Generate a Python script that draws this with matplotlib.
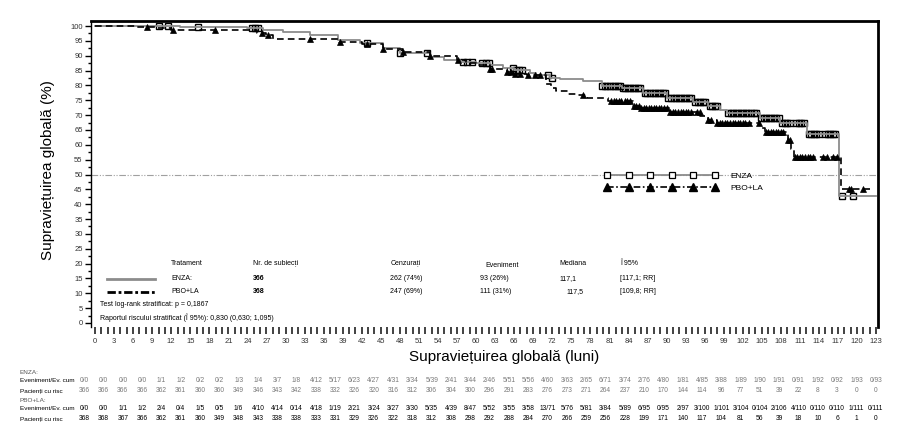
import matplotlib
matplotlib.use('Agg')
import matplotlib.pyplot as plt
import numpy as np
from matplotlib.lines import Line2D
from matplotlib.transforms import blended_transform_factory

plt.rcParams['font.family'] = ['Liberation Sans', 'DejaVu Sans']

# --- curve data ---
enza_t = [0, 13.4, 24.0, 26.5, 29.6, 33.9, 38.3, 41.7, 45.4, 48.0, 52.8, 55.0,
          57.5, 60.0, 62.2, 64.3, 66.0, 68.5, 69.5, 71.7, 73.2, 76.9, 79.8,
          83.0, 86.3, 90.0, 94.2, 96.5, 98.4, 99.5, 104.7, 107.9, 112.1,
          117.1, 123.0]
enza_s = [100, 99.6, 99.2, 98.6, 97.9, 97.1, 95.3, 94.2, 92.5, 90.8, 89.5,
          88.6, 88.0, 87.4, 86.9, 86.0, 85.2, 84.3, 83.5, 82.6, 82.2, 81.5,
          79.9, 79.1, 77.4, 75.9, 74.3, 73.2, 71.7, 70.7, 69.0, 67.2, 63.8,
          42.7, 42.7]

pbo_t = [0, 6.5, 9.5, 12.0, 25.5, 27.0, 28.0, 38.5, 42.0, 45.4, 48.5, 52.8,
         57.0, 58.5, 60.0, 62.2, 64.9, 66.0, 68.0, 71.0, 71.8, 72.6, 74.5,
         76.0, 77.5, 80.8, 84.7, 86.0, 90.5, 95.3, 96.5, 98.0, 104.7, 105.5,
         109.1, 109.6, 110.0, 117.5, 122.0]
pbo_s = [100, 99.7, 99.2, 98.6, 97.8, 97.0, 95.5, 94.6, 93.8, 92.2, 91.4,
         89.9, 88.6, 87.5, 86.9, 85.5, 84.5, 84.0, 83.5, 80.5, 79.0, 78.0,
         77.2, 76.8, 75.8, 74.6, 73.2, 72.4, 71.2, 69.6, 68.4, 67.3, 65.8,
         64.4, 61.5, 58.5, 56.0, 45.0, 45.0]

# censored times
enza_cens = [10.0, 11.5, 16.2, 24.7, 25.2, 25.7, 42.8, 48.0, 52.3, 58.0, 58.6,
             59.3, 61.0, 61.6, 62.1, 65.8, 66.3, 66.8, 67.3, 71.3, 71.9, 79.9,
             80.3, 80.7, 81.1, 81.5, 81.9, 82.3, 82.7, 83.1, 83.5, 83.9, 84.3,
             84.7, 85.1, 85.5, 85.9, 86.6, 87.0, 87.4, 87.8, 88.2, 88.6, 89.0,
             89.4, 89.8, 90.3, 90.7, 91.1, 91.5, 91.9, 92.3, 92.7, 93.1, 93.5,
             93.9, 94.5, 94.9, 95.3, 95.7, 96.1, 96.8, 97.2, 97.6, 98.0, 99.7,
             100.1, 100.5, 100.9, 101.3, 101.7, 102.1, 102.5, 102.9, 103.3,
             103.7, 104.1, 104.9, 105.3, 105.7, 106.1, 106.5, 106.9, 107.3,
             107.7, 108.2, 108.6, 109.0, 109.4, 110.4, 110.8, 111.2, 111.6,
             112.4, 112.8, 113.2, 113.6, 114.0, 115.0, 115.4, 115.8, 116.2,
             116.6, 117.6, 119.4]
pbo_cens = [8.2, 12.3, 18.9, 26.3, 27.2, 33.9, 38.6, 42.8, 45.4, 48.5, 52.8,
            57.2, 62.2, 62.5, 64.9, 65.5, 66.2, 67.0, 68.2, 69.3, 70.0, 76.9,
            81.3, 81.7, 82.1, 82.5, 82.9, 83.4, 83.8, 84.2, 84.8, 85.2, 85.6,
            86.0, 86.4, 86.8, 87.2, 87.6, 88.0, 88.4, 88.8, 89.2, 89.6, 90.0,
            90.6, 91.0, 91.4, 91.8, 92.2, 92.6, 93.0, 93.4, 93.8, 94.8, 95.2,
            96.5, 97.0, 98.0, 98.4, 98.8, 99.2, 99.6, 100.0, 100.4, 100.8,
            101.2, 101.6, 102.0, 102.4, 103.0, 104.6, 105.6, 106.0, 106.4,
            106.8, 107.2, 107.6, 108.0, 108.4, 109.2, 109.4, 110.2, 110.6,
            111.0, 111.4, 111.8, 112.2, 112.6, 113.0, 114.6, 115.2, 116.2,
            116.8, 118.7, 119.1, 121.0]

# --- numbers-at-risk table ---
enza_ev = ['0/0', '0/0', '0/0', '0/0', '1/1', '1/2', '0/2', '0/2', '1/3', '1/4',
           '3/7', '1/8', '4/12', '5/17', '6/23', '4/27', '4/31', '3/34', '5/39',
           '2/41', '3/44', '2/46', '5/51', '5/56', '4/60', '3/63', '2/65',
           '6/71', '3/74', '2/76', '4/80', '1/81', '4/85', '3/88', '1/89',
           '1/90', '1/91', '0/91', '1/92', '0/92', '1/93', '0/93']
enza_risk = [366, 366, 366, 366, 362, 361, 360, 360, 349, 346, 343, 342, 338,
             332, 326, 320, 316, 312, 306, 304, 300, 296, 291, 283, 276, 273,
             271, 264, 237, 210, 170, 144, 114, 96, 77, 51, 39, 22, 8, 3, 0, 0]
pbo_ev = ['0/0', '0/0', '1/1', '1/2', '2/4', '0/4', '1/5', '0/5', '1/6', '4/10',
          '4/14', '0/14', '4/18', '1/19', '2/21', '3/24', '3/27', '3/30',
          '5/35', '4/39', '8/47', '5/52', '3/55', '3/58', '13/71', '5/76',
          '5/81', '3/84', '5/89', '6/95', '0/95', '2/97', '3/100', '1/101',
          '3/104', '0/104', '2/106', '4/110', '0/110', '0/110', '1/111',
          '0/111']
pbo_risk = [368, 368, 367, 366, 362, 361, 360, 349, 348, 343, 338, 338, 333,
            331, 329, 326, 322, 318, 312, 308, 298, 292, 288, 284, 270, 266,
            259, 256, 228, 199, 171, 140, 117, 104, 81, 56, 39, 18, 10, 6, 1, 0]

months = np.arange(0, 124, 3)

GRAY = '#8c8c8c'


def step_value(times, surv, t):
    # value of the step curve at time t
    idx = np.searchsorted(times, t, side='right') - 1
    return np.asarray(surv)[idx]


fig = plt.figure(figsize=(9.21, 4.47), dpi=100)
ax = fig.add_axes([91 / 921, 1 - 327 / 447, 787 / 921, 306 / 447])
ax.set_xlim(-0.63, 123.3)
ax.set_ylim(-1.35, 101.7)

# 50% reference line
ax.axhline(50, color='#a0a0a0', lw=0.8, ls=(0, (6, 1.5, 1, 1.5, 1, 1.5)),
           zorder=1)

# curves
ax.plot(enza_t, enza_s, drawstyle='steps-post', color=GRAY, lw=1.3, zorder=3)
ax.plot(pbo_t, pbo_s, drawstyle='steps-post', color='black', lw=1.2,
        ls=(0, (4, 2.5)), zorder=4)

ax.plot(enza_cens, step_value(enza_t, enza_s, enza_cens), ls='none',
        marker='s', ms=3.8, mfc='none', mec='black', mew=1.0, zorder=2)
ax.plot(pbo_cens, step_value(pbo_t, pbo_s, pbo_cens), ls='none',
        marker='^', ms=5, mfc='black', mec='black', mew=0.5, zorder=5)

# legend on the right
h1 = Line2D([], [], color=GRAY, lw=1.3, marker='s', ms=5, mfc='white',
            mec='black', mew=0.9)
h2 = Line2D([], [], color='black', lw=1.2, ls=(0, (4, 1.5, 1, 1.5)),
            marker='^', ms=6, mfc='black', mec='black')
ax.legend([h1, h2], ['ENZA', 'PBO+LA'], numpoints=6, frameon=False,
          fontsize=6, handlelength=13.5, handletextpad=1.6, labelspacing=0.55,
          loc='center left', bbox_to_anchor=(0.643, 0.474))

# axes styling
ax.spines['top'].set_linewidth(2)
ax.spines['right'].set_linewidth(2)
ax.spines['left'].set_linewidth(1)
ax.spines['bottom'].set_visible(False)

ax.set_yticks(np.arange(0, 101, 5))
ax.set_yticks(np.arange(2.5, 100, 5), minor=True)
ax.set_xticks(months)
ax.set_xticks(np.arange(0, 124, 1), minor=True)
ax.tick_params(axis='y', which='major', length=4, width=1, labelsize=5.5,
               pad=2, labelcolor='#333333')
ax.tick_params(axis='y', which='minor', length=2.5, width=1)
ax.tick_params(axis='x', which='both', length=5, width=1.3, color='#333333',
               labelsize=5.5, pad=3, labelcolor='#333333')

fig.text(48 / 921, 1 - 170 / 447, 'Supraviețuirea globală (%)', rotation=90,
         ha='center', va='center', fontsize=11)
fig.text(504 / 921, 1 - 357 / 447, 'Supraviețuirea globală (luni)',
         ha='center', va='center', fontsize=11)

# summary table inside the plot
fs = 5
ax.text(12.0, 19.9, 'Tratament', fontsize=fs, va='center')
ax.text(24.9, 19.9, 'Nr. de subiecți', fontsize=fs, va='center')
ax.text(46.5, 19.9, 'Cenzurați', fontsize=fs, va='center')
ax.text(61.4, 19.4, 'Eveniment', fontsize=fs, va='center')
ax.text(73.2, 19.9, 'Mediana', fontsize=fs, va='center')
ax.text(82.7, 19.9, 'Î 95%', fontsize=fs, va='center')
ax.plot([1.9, 9.4], [14.9, 14.9], color=GRAY, lw=2)
ax.plot([1.9, 9.4], [10.6, 10.6], color='black', lw=2,
        ls=(0, (3, 1, 1, 1)))
rows = [(14.9, 'ENZA:', '366', '262 (74%)', '93 (26%)', '117,1',
         '[117,1; RR]', 73.2),
        (10.6, 'PBO+LA', '368', '247 (69%)', '111 (31%)', '117,5',
         '[109,8; RR]', 74.3)]
for y, lab, n, cen, ev, med, ci, mx in rows:
    ax.text(12.0, y, lab, fontsize=fs, va='center')
    ax.text(24.9, y, n, fontsize=fs, va='center', fontweight='bold')
    ax.text(46.5, y, cen, fontsize=fs, va='center')
    ax.text(60.6, y, ev, fontsize=fs, va='center')
    ax.text(mx, y, med, fontsize=fs, va='center')
    ax.text(82.7, y, ci, fontsize=fs, va='center')
ax.text(0.8, 6.1, 'Test log-rank stratificat: p = 0,1867', fontsize=fs,
        va='center')
ax.text(0.8, 1.7, 'Raportul riscului stratificat (Î 95%): 0,830 (0,630; 1,095)',
        fontsize=fs, va='center')

# at-risk table below the axis
trans = blended_transform_factory(ax.transData, fig.transFigure)
col_x = months - 1.7 + np.arange(len(months)) * 0.04


def fy(px):
    return 1 - px / 447


lfs = 4.6
fig.text(20 / 921, fy(373), 'ENZA:', fontsize=lfs, va='center',
         color='#555555')
fig.text(20 / 921, fy(381), 'Eveniment/Ev. cum', fontsize=lfs, va='center')
fig.text(20 / 921, fy(391), 'Pacienți cu risc', fontsize=lfs, va='center')
fig.text(20 / 921, fy(401), 'PBO+LA:', fontsize=lfs, va='center',
         color='#555555')
fig.text(20 / 921, fy(408), 'Eveniment/Ev. cum', fontsize=lfs, va='center')
fig.text(20 / 921, fy(419), 'Pacienți cu risc', fontsize=lfs, va='center')

for i, x in enumerate(col_x):
    ax.text(x, fy(381), enza_ev[i], transform=trans, fontsize=4.8,
            ha='center', va='center', color='#7a7a7a')
    ax.text(x, fy(391), str(enza_risk[i]), transform=trans, fontsize=4.8,
            ha='center', va='center', color='#7a7a7a')
    ax.text(x, fy(408), pbo_ev[i], transform=trans, fontsize=4.8,
            ha='center', va='center', color='black')
    ax.text(x, fy(419), str(pbo_risk[i]), transform=trans, fontsize=4.8,
            ha='center', va='center', color='black')

fig.savefig('out.png', dpi=100)
